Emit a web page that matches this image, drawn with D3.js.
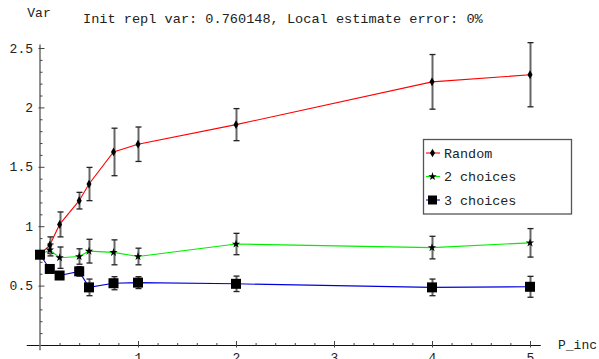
<!DOCTYPE html>
<html>
<head>
<meta charset="utf-8">
<script src="https://cdn.jsdelivr.net/npm/d3@7"></script>
<style>
  body { margin: 0; background: #fff; }
  text { font-family: "Liberation Mono", "DejaVu Sans Mono", monospace; fill: #222; }
</style>
</head>
<body>
<svg id="chart"></svg>
<script>
// Data
const pInc = [0, 0.1, 0.2, 0.4, 0.5, 0.75, 1, 2, 4, 5];
const randomVar = [0.76, 0.84, 1.015, 1.215, 1.355, 1.625, 1.69, 1.855, 2.215, 2.275];
const randomErr = [0, 0.07, 0.105, 0.07, 0.14, 0.2, 0.145, 0.135, 0.23, 0.27];
const twoVar = [0.76, 0.80, 0.735, 0.745, 0.79, 0.78, 0.745, 0.85, 0.82, 0.86];
const twoErr = [0, 0.05, 0.09, 0.065, 0.1, 0.105, 0.07, 0.09, 0.095, 0.12];
const threeVar = [0.76, 0.64, 0.585, 0.62, 0.485, 0.52, 0.525, 0.515, 0.485, 0.49];
const threeErr = [0, 0.02, 0.02, 0.04, 0.07, 0.055, 0.05, 0.065, 0.07, 0.088];
const xTicks = [1, 2, 3, 4, 5];
const yTicks = [0.5, 1, 1.5, 2, 2.5];

const series = [
  { name: "Random", values: randomVar, errs: randomErr, color: "#ff0000", marker: "diamond" },
  { name: "2 choices", values: twoVar, errs: twoErr, color: "#00ee00", marker: "star" },
  { name: "3 choices", values: threeVar, errs: threeErr, color: "#0000dd", marker: "square" }
];

const width = 599, height = 359;

const svg = d3.select("#chart")
    .attr("width", width)
    .attr("height", height);

const x = d3.scaleLinear().domain([0, 5]).range([40, 530]);
const y = d3.scaleLinear().domain([0, 2.5]).range([345, 48]);

// Axes lines span the plot range
svg.append("line")
    .attr("x1", x(-0.135)).attr("x2", x(5.11))
    .attr("y1", y(0) + 0.5).attr("y2", y(0) + 0.5)
    .attr("stroke", "#111").attr("stroke-width", 1);
svg.append("line")
    .attr("x1", x(0)).attr("x2", x(0))
    .attr("y1", y(2.53)).attr("y2", y(-0.045))
    .attr("stroke", "#777").attr("stroke-width", 1.6);

// Minor ticks
const xMinor = d3.range(0.2, 5.01, 0.2).filter(v => Math.abs(v - Math.round(v)) > 0.01);
const yMinor = d3.range(0.1, 2.51, 0.1).filter(v => Math.abs(v * 2 - Math.round(v * 2)) > 0.01);

svg.append("g")
    .attr("transform", "translate(0," + (y(0) + 0.5) + ")")
    .call(d3.axisBottom(x).tickValues(xMinor).tickSize(-2.5).tickFormat(""))
    .call(g => g.select(".domain").remove())
    .selectAll("line").attr("stroke", "#444");

svg.append("g")
    .attr("transform", "translate(" + x(0) + ",0)")
    .call(d3.axisLeft(y).tickValues(yMinor).tickSize(-2.5).tickFormat(""))
    .call(g => g.select(".domain").remove())
    .selectAll("line").attr("stroke", "#444");

// Major ticks with labels
const xAxis = svg.append("g")
    .attr("transform", "translate(0," + (y(0) + 0.5) + ")")
    .call(d3.axisBottom(x).tickValues(xTicks).tickSize(-4.5).tickPadding(7).tickFormat(d3.format("d")))
    .call(g => g.select(".domain").remove());
xAxis.selectAll("line").attr("stroke", "#444").attr("y2", -4.5).attr("y1", 2);
xAxis.selectAll("text").style("font-size", "13px").attr("fill", "#333");

const yAxis = svg.append("g")
    .attr("transform", "translate(" + x(0) + ",0)")
    .call(d3.axisLeft(y).tickValues(yTicks).tickSize(-4.5).tickPadding(7).tickFormat(d => String(d)))
    .call(g => g.select(".domain").remove());
yAxis.selectAll("line").attr("stroke", "#444").attr("x1", -1.5);
yAxis.selectAll("text").style("font-size", "13px").attr("fill", "#333");

// Axis labels and title
svg.append("text")
    .attr("x", 39).attr("y", 17)
    .attr("text-anchor", "middle")
    .style("font-size", "13px")
    .text("Var");

svg.append("text")
    .attr("x", 558).attr("y", 349)
    .style("font-size", "13px")
    .text("P_inc");

svg.append("text")
    .attr("x", 83).attr("y", 23)
    .style("font-size", "13.6px")
    .text("Init repl var: 0.760148, Local estimate error: 0%");

// Markers
function drawMarker(g, type, cx, cy) {
  if (type === "square") {
    g.append("rect")
      .attr("x", cx - 5).attr("y", cy - 5)
      .attr("width", 10).attr("height", 10)
      .attr("fill", "#000");
  } else if (type === "diamond") {
    g.append("path")
      .attr("d", d3.symbol().type(d3.symbolDiamond).size(22)())
      .attr("transform", "translate(" + cx + "," + cy + ")")
      .attr("fill", "#000");
  } else {
    g.append("path")
      .attr("d", d3.symbol().type(d3.symbolStar).size(22)())
      .attr("transform", "translate(" + cx + "," + cy + ")")
      .attr("fill", "#000");
  }
}

const line = d3.line()
    .x(d => x(d[0]))
    .y(d => y(d[1]));

// Draw lines first (blue over green over red to match stacking)
series.forEach(s => {
  svg.append("path")
    .datum(pInc.map((p, i) => [p, s.values[i]]))
    .attr("fill", "none")
    .attr("stroke", s.color)
    .attr("stroke-width", 1.1)
    .attr("d", line);
});

// Error bars
series.forEach(s => {
  const eb = svg.append("g");
  pInc.forEach((p, i) => {
    const e = s.errs[i];
    if (e <= 0) return;
    const cx = Math.round(x(p)) + 0.5;
    eb.append("line")
      .attr("x1", cx).attr("x2", cx)
      .attr("y1", y(s.values[i] + e)).attr("y2", y(s.values[i] - e))
      .attr("stroke", "#666").attr("stroke-width", 2);
    [s.values[i] + e, s.values[i] - e].forEach(v => {
      eb.append("line")
        .attr("x1", cx - 3).attr("x2", cx + 3)
        .attr("y1", y(v)).attr("y2", y(v))
        .attr("stroke", "#222").attr("stroke-width", 1.3);
    });
  });
});

// Points
series.forEach(s => {
  const g = svg.append("g");
  pInc.forEach((p, i) => drawMarker(g, s.marker, x(p), y(s.values[i])));
});

// Legend
const legend = svg.append("g");
legend.append("rect")
    .attr("x", 423.5).attr("y", 139.5)
    .attr("width", 148).attr("height", 74.5)
    .attr("fill", "#fff")
    .attr("stroke", "#555").attr("stroke-width", 1.3);

series.forEach((s, i) => {
  const ly = 153 + i * 23.5;
  legend.append("line")
    .attr("x1", 426).attr("x2", 440)
    .attr("y1", ly).attr("y2", ly)
    .attr("stroke", s.color).attr("stroke-width", 1.1);
  if (s.marker === "square") {
    legend.append("rect")
      .attr("x", 428).attr("y", ly - 4.5)
      .attr("width", 9).attr("height", 9)
      .attr("fill", "#000");
  } else {
    drawMarker(legend, s.marker, 432.5, ly);
  }
  legend.append("text")
    .attr("x", 444).attr("y", ly + 4.5)
    .style("font-size", "13.4px")
    .text(s.name);
});
</script>
</body>
</html>
